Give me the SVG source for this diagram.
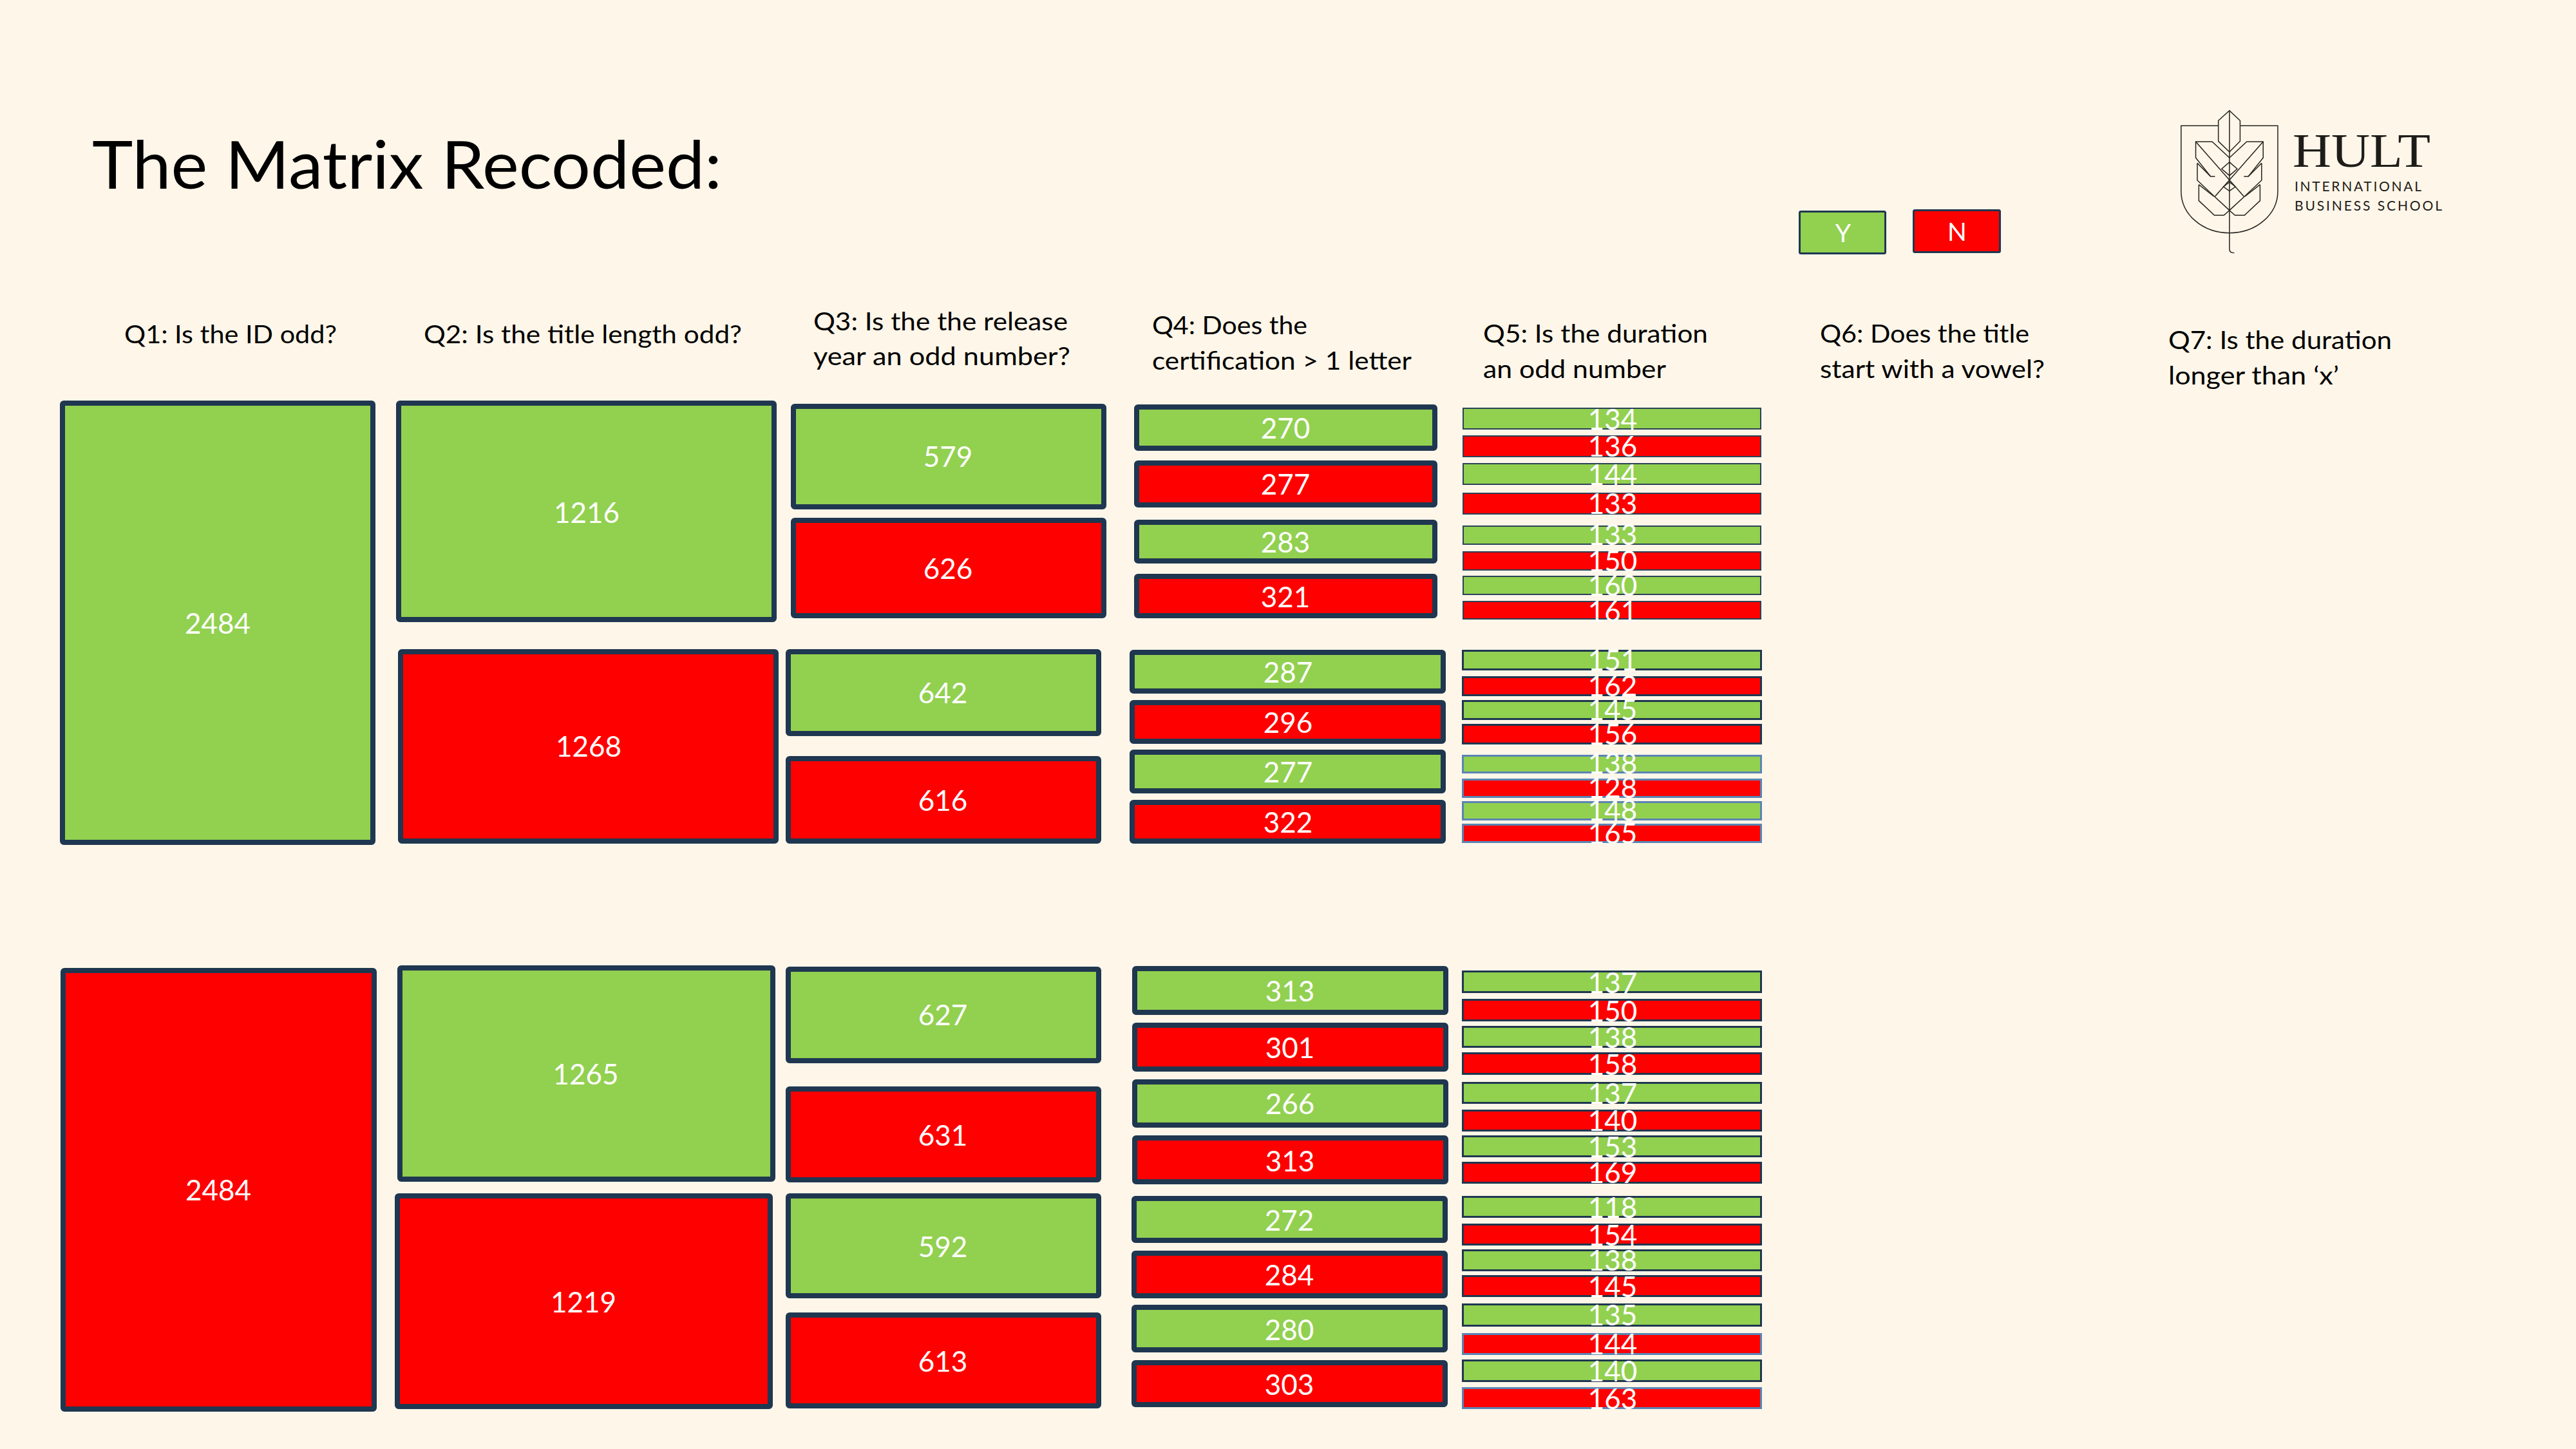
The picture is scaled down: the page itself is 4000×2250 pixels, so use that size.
<svg xmlns="http://www.w3.org/2000/svg" width="4000" height="2250" viewBox="0 0 4000 2250">
<style>
text{font-family:"Lato","Open Sans","Liberation Sans",sans-serif}
.y{fill:#92d050}.n{fill:#ff0000}
.b{stroke:#1f3750;stroke-width:8}
.t{stroke:#2b4257;stroke-width:2}
.m{stroke:#1f3750;stroke-width:3}
.l{stroke:#5b84b4;stroke-width:3}
.v{fill:#fff;font-size:44px;text-anchor:middle}
.h{fill:#000;font-size:38px}
.logo{fill:none;stroke:#26241f;stroke-width:4.4}
.lt{fill:#1e1c18}
</style>
<rect width="4000" height="2250" fill="#fef6e9"/>
<text id="title" x="143" y="293" font-size="103" fill="#000" textLength="978" lengthAdjust="spacingAndGlyphs">The Matrix Recoded:</text>

<g id="headers">
<text class="h" x="193" y="533" textLength="330" lengthAdjust="spacingAndGlyphs">Q1: Is the ID odd?</text>
<text class="h" x="658" y="533" textLength="494" lengthAdjust="spacingAndGlyphs">Q2: Is the title length odd?</text>
<text class="h" x="1263" y="513" textLength="395" lengthAdjust="spacingAndGlyphs">Q3: Is the the release</text>
<text class="h" x="1263" y="567" textLength="399" lengthAdjust="spacingAndGlyphs">year an odd number?</text>
<text class="h" x="1789" y="519" textLength="241" lengthAdjust="spacingAndGlyphs">Q4: Does the</text>
<text class="h" x="1789" y="574" textLength="403" lengthAdjust="spacingAndGlyphs">certification &gt; 1 letter</text>
<text class="h" x="2303" y="532" textLength="349" lengthAdjust="spacingAndGlyphs">Q5: Is the duration</text>
<text class="h" x="2303" y="587" textLength="284" lengthAdjust="spacingAndGlyphs">an odd number</text>
<text class="h" x="2826" y="532" textLength="325" lengthAdjust="spacingAndGlyphs">Q6: Does the title</text>
<text class="h" x="2826" y="587" textLength="349" lengthAdjust="spacingAndGlyphs">start with a vowel?</text>
<text class="h" x="3367" y="542" textLength="347" lengthAdjust="spacingAndGlyphs">Q7: Is the duration</text>
<text class="h" x="3367" y="597" textLength="265" lengthAdjust="spacingAndGlyphs">longer than ‘x’</text>
</g>

<g id="legend-y"><rect class="y m" x="2794.5" y="328.5" width="133" height="65" rx="2"/><text class="v" x="2862" y="376" font-size="39" style="font-size:39px">Y</text></g>
<g id="legend-n"><rect class="n m" x="2971.5" y="326.5" width="134" height="65" rx="2"/><text class="v" x="3039" y="374" style="font-size:39px">N</text></g>

<g id="logo">
<g class="logo" transform="translate(3300 130) scale(.3444 .3333)">
<path d="M420 196H252V500C252 610 350 695 470 695C590 695 688 610 688 500V196H520"/>
<path d="M470 125L518 172V268L470 318L420 268V172Z"/>
<path d="M470 125V770Q470 788 492 788"/>
<path d="M470 345L392 270H318V345L385 432H405"/>
<path d="M470 345L548 270H622V345L555 432H535"/>
<path d="M318 270L535 525M622 270L405 525"/>
<path d="M325 370V450L402 525L470 590M615 370V450L538 525L470 590"/>
<path d="M332 470V545L402 613H445L470 590L495 613H538L608 545V470"/>
<path d="M325 370L385 432M615 370L555 432M332 470L400 525M608 470L540 525"/>
<path d="M470 365L505 397L470 428L435 397ZM470 458L497 480L470 500L443 480Z"/>
</g>
<text class="lt" x="3560" y="259" font-size="74" textLength="214" lengthAdjust="spacingAndGlyphs" style="font-family:'Liberation Serif',serif">HULT</text>
<text class="lt" x="3563" y="297" font-size="21" textLength="197" lengthAdjust="spacing">INTERNATIONAL</text>
<text class="lt" x="3563" y="327" font-size="21" textLength="229" lengthAdjust="spacing">BUSINESS SCHOOL</text>
</g>

<g id="q1">
<g id="n-q1-y"><rect class="y b" x="97" y="626" width="482" height="682" rx="2"/><text class="v" x="338" y="984">2484</text></g>
<g id="n-q1-n"><rect class="n b" x="98" y="1507" width="483" height="681" rx="2"/><text class="v" x="339" y="1864">2484</text></g>
</g>
<g id="q2">
<g id="n-1216"><rect class="y b" x="619" y="626" width="583" height="336" rx="2"/><text class="v" x="911" y="812">1216</text></g>
<g id="n-1268"><rect class="n b" x="622" y="1012" width="583" height="294" rx="2"/><text class="v" x="914" y="1175">1268</text></g>
<g id="n-1265"><rect class="y b" x="621" y="1503" width="579" height="328" rx="2"/><text class="v" x="909.5" y="1684">1265</text></g>
<g id="n-1219"><rect class="n b" x="617" y="1857" width="579" height="327" rx="2"/><text class="v" x="906" y="2038">1219</text></g>
</g>
<g id="q3">
<g id="n-579"><rect class="y b" x="1232" y="631" width="482" height="156" rx="2"/><text class="v" x="1472" y="725">579</text></g>
<g id="n-626"><rect class="n b" x="1232" y="808" width="482" height="148" rx="2"/><text class="v" x="1472" y="899">626</text></g>
<g id="n-642"><rect class="y b" x="1224" y="1012" width="482" height="127" rx="2"/><text class="v" x="1464" y="1092">642</text></g>
<g id="n-616"><rect class="n b" x="1224" y="1178" width="482" height="128" rx="2"/><text class="v" x="1464" y="1259">616</text></g>
<g id="n-627"><rect class="y b" x="1224" y="1505" width="482" height="142" rx="2"/><text class="v" x="1464" y="1592">627</text></g>
<g id="n-631"><rect class="n b" x="1224" y="1691" width="482" height="141" rx="2"/><text class="v" x="1464" y="1779">631</text></g>
<g id="n-592"><rect class="y b" x="1224" y="1857" width="482" height="155" rx="2"/><text class="v" x="1464" y="1952">592</text></g>
<g id="n-613"><rect class="n b" x="1224" y="2042" width="482" height="141" rx="2"/><text class="v" x="1464" y="2130">613</text></g>
</g>
<g id="q4">
<g id="n-270"><rect class="y b" x="1765" y="632" width="463" height="64" rx="2"/><text class="v" x="1996" y="681">270</text></g>
<g id="n-277a"><rect class="n b" x="1765" y="719" width="463" height="65" rx="2"/><text class="v" x="1996" y="768">277</text></g>
<g id="n-283"><rect class="y b" x="1765" y="811" width="463" height="60" rx="2"/><text class="v" x="1996" y="858">283</text></g>
<g id="n-321"><rect class="n b" x="1765" y="895" width="463" height="61" rx="2"/><text class="v" x="1996" y="943">321</text></g>
<g id="n-287"><rect class="y b" x="1758" y="1013" width="483" height="60" rx="2"/><text class="v" x="2000" y="1060">287</text></g>
<g id="n-296"><rect class="n b" x="1758" y="1091" width="483" height="60" rx="2"/><text class="v" x="2000" y="1138">296</text></g>
<g id="n-277b"><rect class="y b" x="1758" y="1168" width="483" height="60" rx="2"/><text class="v" x="2000" y="1215">277</text></g>
<g id="n-322"><rect class="n b" x="1758" y="1246" width="483" height="60" rx="2"/><text class="v" x="2000" y="1293">322</text></g>
<g id="n-313a"><rect class="y b" x="1762" y="1504" width="483" height="68" rx="2"/><text class="v" x="2003" y="1555">313</text></g>
<g id="n-301"><rect class="n b" x="1762" y="1592" width="483" height="68" rx="2"/><text class="v" x="2003" y="1643">301</text></g>
<g id="n-266"><rect class="y b" x="1762" y="1680" width="483" height="67" rx="2"/><text class="v" x="2003" y="1730">266</text></g>
<g id="n-313b"><rect class="n b" x="1762" y="1767" width="483" height="68" rx="2"/><text class="v" x="2003" y="1819">313</text></g>
<g id="n-272"><rect class="y b" x="1761" y="1861" width="483" height="65" rx="2"/><text class="v" x="2002" y="1911">272</text></g>
<g id="n-284"><rect class="n b" x="1761" y="1946" width="483" height="66" rx="2"/><text class="v" x="2002" y="1996">284</text></g>
<g id="n-280"><rect class="y b" x="1761" y="2030" width="483" height="66" rx="2"/><text class="v" x="2002" y="2081">280</text></g>
<g id="n-303"><rect class="n b" x="1761" y="2116" width="483" height="65" rx="2"/><text class="v" x="2002" y="2166">303</text></g>
</g>
<g id="q5">
<g id="n-134"><rect class="y t" x="2272" y="634" width="462" height="32"/><text class="v" x="2504" y="667">134</text></g>
<g id="n-136"><rect class="n t" x="2272" y="677" width="462" height="32"/><text class="v" x="2504" y="709">136</text></g>
<g id="n-144a"><rect class="y t" x="2272" y="720" width="462" height="32"/><text class="v" x="2504" y="753">144</text></g>
<g id="n-133a"><rect class="n t" x="2272" y="766" width="462" height="32"/><text class="v" x="2504" y="798">133</text></g>
<g id="n-133b"><rect class="y t" x="2272" y="817" width="462" height="28"/><text class="v" x="2504" y="846">133</text></g>
<g id="n-150a"><rect class="n t" x="2272" y="857" width="462" height="28"/><text class="v" x="2504" y="887">150</text></g>
<g id="n-160"><rect class="y t" x="2272" y="895" width="462" height="28"/><text class="v" x="2504" y="925">160</text></g>
<g id="n-161"><rect class="n t" x="2272" y="934" width="462" height="27"/><text class="v" x="2504" y="965">161</text></g>
<g id="n-151"><rect class="y m" x="2271.5" y="1010.5" width="463" height="29"/><text class="v" x="2504" y="1041">151</text></g>
<g id="n-162"><rect class="n m" x="2271.5" y="1051.5" width="463" height="28"/><text class="v" x="2504" y="1081">162</text></g>
<g id="n-145a"><rect class="y m" x="2271.5" y="1088.5" width="463" height="28"/><text class="v" x="2504" y="1118">145</text></g>
<g id="n-156"><rect class="n m" x="2271.5" y="1125.5" width="463" height="29"/><text class="v" x="2504" y="1156">156</text></g>
<g id="n-138a"><rect class="y l" x="2271.5" y="1173.5" width="463" height="26"/><text class="v" x="2504" y="1201">138</text></g>
<g id="n-128"><rect class="n l" x="2271.5" y="1210.5" width="463" height="27"/><text class="v" x="2504" y="1239">128</text></g>
<g id="n-148"><rect class="y l" x="2271.5" y="1245.5" width="463" height="27"/><text class="v" x="2504" y="1274">148</text></g>
<g id="n-165"><rect class="n l" x="2271.5" y="1280.5" width="463" height="27"/><text class="v" x="2504" y="1310">165</text></g>
<g id="n-137a"><rect class="y m" x="2271.5" y="1508.5" width="463" height="32"/><text class="v" x="2504" y="1542">137</text></g>
<g id="n-150b"><rect class="n m" x="2271.5" y="1552.5" width="463" height="32"/><text class="v" x="2504" y="1586">150</text></g>
<g id="n-138b"><rect class="y m" x="2271.5" y="1594.5" width="463" height="31"/><text class="v" x="2504" y="1627">138</text></g>
<g id="n-158"><rect class="n m" x="2271.5" y="1635.5" width="463" height="32"/><text class="v" x="2504" y="1669">158</text></g>
<g id="n-137b"><rect class="y m" x="2271.5" y="1681.5" width="463" height="31"/><text class="v" x="2504" y="1714">137</text></g>
<g id="n-140a"><rect class="n m" x="2271.5" y="1724.5" width="463" height="31"/><text class="v" x="2504" y="1756">140</text></g>
<g id="n-153"><rect class="y m" x="2271.5" y="1764.5" width="463" height="31"/><text class="v" x="2504" y="1797">153</text></g>
<g id="n-169"><rect class="n m" x="2271.5" y="1805.5" width="463" height="31"/><text class="v" x="2504" y="1837">169</text></g>
<g id="n-118"><rect class="y m" x="2271.5" y="1858.5" width="463" height="31"/><text class="v" x="2504" y="1891">118</text></g>
<g id="n-154"><rect class="n m" x="2271.5" y="1901.5" width="463" height="31"/><text class="v" x="2504" y="1934">154</text></g>
<g id="n-138c"><rect class="y m" x="2271.5" y="1941.5" width="463" height="31"/><text class="v" x="2504" y="1973">138</text></g>
<g id="n-145b"><rect class="n m" x="2271.5" y="1981.5" width="463" height="31"/><text class="v" x="2504" y="2014">145</text></g>
<g id="n-135"><rect class="y m" x="2271.5" y="2025.5" width="463" height="33"/><text class="v" x="2504" y="2058">135</text></g>
<g id="n-144b"><rect class="n l" x="2271.5" y="2071.5" width="463" height="31"/><text class="v" x="2504" y="2103">144</text></g>
<g id="n-140b"><rect class="y m" x="2271.5" y="2112.5" width="463" height="32"/><text class="v" x="2504" y="2145">140</text></g>
<g id="n-163"><rect class="n l" x="2271.5" y="2155.5" width="463" height="31"/><text class="v" x="2504" y="2188">163</text></g>
</g>
<g id="connectors"/>
</svg>
